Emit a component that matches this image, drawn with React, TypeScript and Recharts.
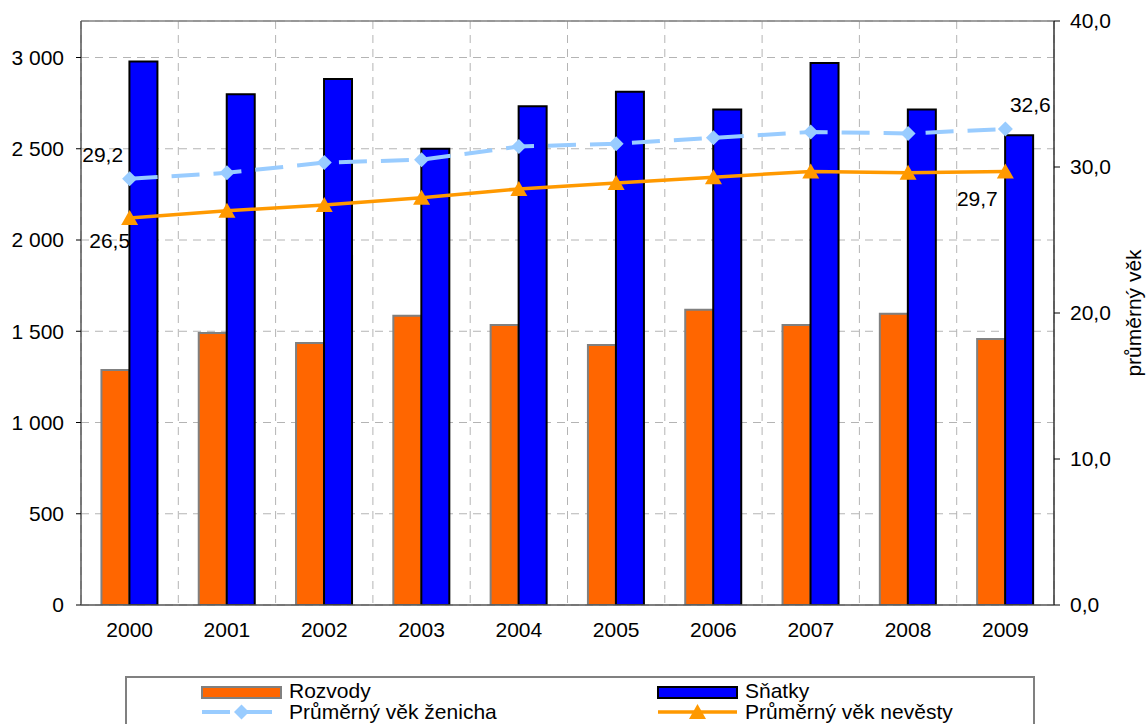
import React from 'react';
import {
  ComposedChart,
  Bar,
  Line,
  XAxis,
  YAxis,
  CartesianGrid,
  ReferenceLine,
  LabelList,
} from 'recharts';

const years = ['2000', '2001', '2002', '2003', '2004', '2005', '2006', '2007', '2008', '2009'];
const rozvody = [1288, 1491, 1436, 1585, 1534, 1425, 1618, 1534, 1596, 1457];
const snatky = [2978, 2798, 2882, 2500, 2733, 2812, 2715, 2970, 2715, 2574];
const vekZenicha = [29.2, 29.6, 30.3, 30.5, 31.4, 31.6, 32.0, 32.4, 32.3, 32.6];
const vekNevesty = [26.5, 27.0, 27.4, 27.9, 28.5, 28.9, 29.3, 29.7, 29.6, 29.7];
const leftTicks = [0, 500, 1000, 1500, 2000, 2500, 3000];
const rightTicks = [0, 10, 20, 30, 40];
const boundaryTicks = [0, 1, 2, 3, 4, 5, 6, 7, 8, 9, 10];

const names = {
  rozvody: 'Rozvody',
  snatky: 'Sňatky',
  zenich: 'Průměrný věk ženicha',
  nevesta: 'Průměrný věk nevěsty',
};

const data = years.map((y, i) => ({
  year: y,
  idx: i + 0.5,
  rozvody: rozvody[i],
  snatky: snatky[i],
  zenich: vekZenicha[i],
  nevesta: vekNevesty[i],
}));

const FONT = '"Liberation Sans", Arial, sans-serif';
const FS = 21;

const fmtThousands = (v: number) =>
  v >= 1000 ? `${Math.floor(v / 1000)} ${String(v % 1000).padStart(3, '0')}` : String(v);
const fmtDec = (v: number) => v.toFixed(1).replace('.', ',');

const CatTick = (props: any) => {
  const { x, y, payload } = props;
  return (
    <text
      x={x}
      y={y + 17}
      dy="0.71em"
      textAnchor="middle"
      fontFamily={FONT}
      fontSize={FS}
      fill="#000"
    >
      {payload.value}
    </text>
  );
};

const Diamond = (props: any) => {
  const { cx, cy } = props;
  if (cx == null || cy == null) return null;
  const r = 7.5;
  return (
    <polygon
      key={`d-${props.index}`}
      points={`${cx},${cy - r} ${cx + r},${cy} ${cx},${cy + r} ${cx - r},${cy}`}
      fill="#99CCFF"
    />
  );
};

const Triangle = (props: any) => {
  const { cx, cy } = props;
  if (cx == null || cy == null) return null;
  return (
    <polygon
      key={`t-${props.index}`}
      points={`${cx},${cy - 8} ${cx + 8.5},${cy + 7} ${cx - 8.5},${cy + 7}`}
      fill="#FF9900"
    />
  );
};

const makeEndLabel =
  (first: [number, number], last: [number, number]) => (props: any) => {
    const { x, y, value, index } = props;
    const n = years.length;
    if (index !== 0 && index !== n - 1) return null;
    const [dx, dy] = index === 0 ? first : last;
    return (
      <text
        x={x + dx}
        y={y + dy}
        dy="0.35em"
        textAnchor="middle"
        fontFamily={FONT}
        fontSize={FS}
        fill="#000"
      >
        {fmtDec(Number(value))}
      </text>
    );
  };

const RightLabel = (props: any) => {
  const vb = props.viewBox || {};
  const cx = vb.x + vb.width - 13;
  const cy = vb.y + vb.height / 2;
  return (
    <text
      x={cx}
      y={cy}
      dy="0.35em"
      textAnchor="middle"
      transform={`rotate(-90, ${cx}, ${cy})`}
      fontFamily={FONT}
      fontSize={FS}
      fill="#000"
    >
      průměrný věk
    </text>
  );
};

const Legend = () => {
  const sw = 79;
  const col1 = 77;
  const col2 = 533;
  const textOff = 87;
  const row1 = 11;
  const row2 = 36;
  const textStyle = { fontFamily: FONT, fontSize: FS, fill: '#000' } as any;
  return (
    <svg
      width={912}
      height={48}
      style={{ position: 'absolute', left: 125, top: 676 }}
    >
      <rect x={1} y={1} width={908} height={80} fill="#fff" stroke="#808080" strokeWidth={2} />
      <rect x={col1} y={row1} width={sw} height={11} fill="#FF6600" stroke="#808080" strokeWidth={2} />
      <text x={col1 + textOff} y={22} {...textStyle}>{names.rozvody}</text>
      <rect x={col2} y={row1} width={sw} height={11} fill="#0000FF" stroke="#000" strokeWidth={2} />
      <text x={col2 + textOff} y={22} {...textStyle}>{names.snatky}</text>

      <line x1={col1} x2={col1 + sw} y1={row2} y2={row2} stroke="#99CCFF" strokeWidth={4} strokeDasharray="28 14" />
      <Diamond cx={col1 + sw / 2} cy={row2} />
      <text x={col1 + textOff} y={43} {...textStyle}>{names.zenich}</text>
      <line x1={col2} x2={col2 + sw} y1={row2} y2={row2} stroke="#FF9900" strokeWidth={3.5} />
      <Triangle cx={col2 + sw / 2} cy={row2} />
      <text x={col2 + textOff} y={43} {...textStyle}>{names.nevesta}</text>
    </svg>
  );
};

export default function App() {
  return (
    <div style={{ position: 'absolute', left: 0, top: 0, width: 1147, height: 724, background: '#fff' }}>
      <ComposedChart
        width={1147}
        height={724}
        data={data}
        margin={{ top: 21, right: 0, bottom: 74, left: 0 }}
        barCategoryGap="21%"
        barGap={0}
        style={{ fontFamily: FONT }}
      >
        <XAxis
          xAxisId="b"
          type="number"
          dataKey="idx"
          domain={[0, 10]}
          ticks={boundaryTicks}
          height={0}
          interval={0}
          axisLine={false}
          tickSize={6}
          tickLine={{ stroke: '#000' }}
          tickFormatter={() => ''}
          tick={{ fontSize: 1 }}
        />
        <CartesianGrid
          xAxisId="b"
          yAxisId="left"
          stroke="#b4b4b4"
          strokeDasharray="8 6"
          strokeWidth={1}
        />
        <XAxis
          dataKey="year"
          height={45}
          tickLine={false}
          tickSize={0}
          tickMargin={0}
          axisLine={{ stroke: '#555', strokeWidth: 1.5 }}
          tick={<CatTick />}
          interval={0}
        />
        <YAxis
          yAxisId="left"
          width={81}
          domain={[0, 3200]}
          ticks={leftTicks}
          tickFormatter={fmtThousands}
          tickSize={5}
          tickMargin={12}
          axisLine={{ stroke: '#555', strokeWidth: 1.5 }}
          tickLine={{ stroke: '#000' }}
          tick={{ fontFamily: FONT, fontSize: FS, fill: '#000' }}
          allowDataOverflow
        />
        <YAxis
          yAxisId="right"
          orientation="right"
          width={93}
          domain={[0, 40]}
          ticks={rightTicks}
          tickFormatter={fmtDec}
          tickSize={6}
          tickMargin={10}
          axisLine={{ stroke: '#333', strokeWidth: 1.5 }}
          tickLine={{ stroke: '#000' }}
          tick={{ fontFamily: FONT, fontSize: FS, fill: '#000' }}
          label={<RightLabel />}
        />
        <ReferenceLine yAxisId="left" y={3200} stroke="#808080" strokeWidth={1.5} />
        <Bar
          yAxisId="left"
          dataKey="rozvody"
          name={names.rozvody}
          fill="#FF6600"
          stroke="#808080"
          strokeWidth={2}
          isAnimationActive={false}
        />
        <Bar
          yAxisId="left"
          dataKey="snatky"
          name={names.snatky}
          fill="#0000FF"
          stroke="#000"
          strokeWidth={2}
          isAnimationActive={false}
        />
        <Line
          yAxisId="right"
          dataKey="zenich"
          name={names.zenich}
          stroke="#99CCFF"
          strokeWidth={4}
          strokeDasharray="28 14"
          dot={<Diamond />}
          activeDot={false}
          isAnimationActive={false}
        >
          <LabelList dataKey="zenich" content={makeEndLabel([-27, -24], [25, -24])} />
        </Line>
        <Line
          yAxisId="right"
          dataKey="nevesta"
          name={names.nevesta}
          stroke="#FF9900"
          strokeWidth={3.5}
          dot={<Triangle />}
          activeDot={false}
          isAnimationActive={false}
        >
          <LabelList dataKey="nevesta" content={makeEndLabel([-20, 23], [-28, 27])} />
        </Line>
      </ComposedChart>
      <Legend />
    </div>
  );
}
